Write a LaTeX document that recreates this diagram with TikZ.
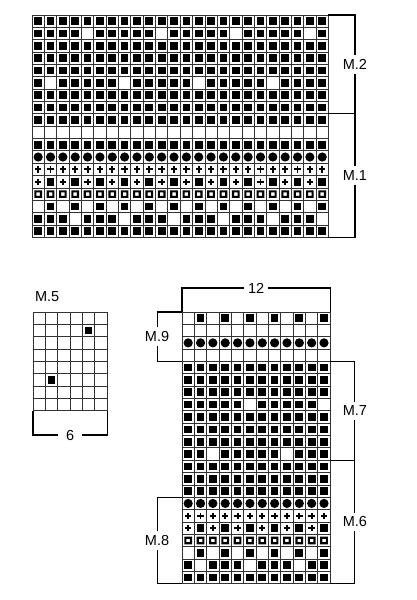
\documentclass[tikz,border=0pt]{standalone}
\usepackage{fontspec}
\setmainfont{Liberation Sans}
\usetikzlibrary{positioning}

\tikzset{
  knitb/.pic={\fill (-0.31,-0.31) rectangle (0.31,0.31);},
  knitw/.pic={},
  knitd/.pic={\fill (0,0) circle (4.6pt);},
  knitp/.pic={\draw[line width=1.9pt] (-0.26,0) -- (0.26,0) (0,-0.26) -- (0,0.26);},
  knith/.pic={\fill[even odd rule] (-0.31,-0.31) rectangle (0.31,0.31) (-0.14,-0.14) rectangle (0.14,0.14);},
}

% one symbol, one row (pattern repeated over the width), the grid lines
\newcommand\knitsym[3]{\pic at ({#2},{#3}) {knit#1};}
\newcommand\knitrow[3]{%
  \foreach \s [count=\k] in {#3} {\xdef\knitper{\k}}%
  \pgfmathtruncatemacro\knitreps{#2/\knitper-1}%
  \foreach \rep in {0,...,\knitreps} {%
    \foreach \s [count=\k from 0] in {#3} {%
      \expandafter\knitsym\expandafter{\s}{\rep*\knitper+\k+0.5}{#1+0.5}%
    }%
  }%
}
\newcommand\knitgrid[2]{%
  \foreach \i in {0,...,#1} {\draw[knitline] (\i,0) -- (\i,#2);}%
  \foreach \j in {0,...,#2} {\draw[knitline] (0,\j) -- (#1,\j);}%
}

\begin{document}
\begin{tikzpicture}[x=12.35pt,y=-12.35pt,
    font=\fontsize{14.5pt}{17pt}\selectfont,
    knitline/.style={black!80,line width=0.75pt},
    bracket/.style={line width=1.1pt},
    lbl/.style={inner xsep=1pt,inner ysep=4pt}]
  \useasboundingbox (0pt,0pt) rectangle (416pt,-600pt);

  % M.2 and M.1
  \begin{scope}[shift={(32pt,-15pt)}]
    \foreach \r in {0,2,3,4,6,7,8,10,17} {\knitrow{\r}{24}{b}}
    \knitrow{1}{24}{b,b,b,b,w,b}
    \knitrow{5}{24}{b,w,b,b,b,b}
    \knitrow{11}{24}{d}
    \knitrow{12}{24}{p}
    \knitrow{13}{24}{p,b}
    \knitrow{14}{24}{h}
    \knitrow{15}{24}{w,b}
    \knitrow{16}{24}{b,b,b,w}
    \knitgrid{24}{18}
    \coordinate (top0) at (24,0);
    \coordinate (top8) at (24,8);
    \coordinate (top18) at (24,18);
    \node[lbl] (m2) at (26.15,4) {M.2};
    \node[lbl] (m1) at (26.15,13) {M.1};
    \draw[bracket] (m2.north) |- (top0);
    \draw[bracket] (m2.south) |- (top8);
    \draw[bracket] (m1.north) |- (top8);
    \draw[bracket] (m1.south) |- (top18);
  \end{scope}

  % M.5
  \begin{scope}[shift={(33pt,-312pt)}]
    \knitrow{1}{6}{w,w,w,w,b,w}
    \knitrow{5}{6}{w,b,w,w,w,w}
    \knitgrid{6}{8}
    \coordinate (five-nw) at (0.15,-0.89);
    \coordinate (five-sw) at (0,8);
    \coordinate (five-se) at (6,8);
    \node[anchor=base west,inner sep=0pt] (m5) at (five-nw) {M.5};
    \node[lbl,inner xsep=8pt] (w6) at (3,9.96) {6};
    \draw[bracket] (w6.west) -| (five-sw);
    \draw[bracket] (w6.east) -| (five-se);
  \end{scope}

  % M.9, M.7, M.6, M.8
  \begin{scope}[shift={(182pt,-312pt)}]
    \knitrow{0}{12}{w,b}
    \knitrow{2}{12}{d}
    \foreach \r in {4,5,6,8,9,10,12,13,14,21} {\knitrow{\r}{12}{b}}
    \knitrow{7}{12}{b,b,b,b,b,w}
    \knitrow{11}{12}{b,b,w,b,b,b}
    \knitrow{15}{12}{d}
    \knitrow{16}{12}{p}
    \knitrow{17}{12}{p,b}
    \knitrow{18}{12}{h}
    \knitrow{19}{12}{w,b}
    \knitrow{20}{12}{b,w,b,b}
    \knitgrid{12}{22}
    \coordinate (bot-nw) at (0,0);
    \coordinate (bot-ne) at (12,0);
    \coordinate (bot4) at (0,4);
    \coordinate (bot15) at (0,15);
    \coordinate (bot22) at (0,22);
    \coordinate (bot4e) at (12,4);
    \coordinate (bot12e) at (12,12);
    \coordinate (bot22e) at (12,22);
    \node[lbl,inner xsep=4pt] (w12) at (6,-1.94) {12};
    \draw[bracket] (w12.west) -| (bot-nw);
    \draw[bracket] (w12.east) -| (bot-ne);
    \node[lbl] (m9) at (-2.02,2) {M.9};
    \draw[bracket] (m9.north) |- (bot-nw);
    \draw[bracket] (m9.south) |- (bot4);
    \node[lbl] (m8) at (-2.02,18.5) {M.8};
    \draw[bracket] (m8.north) |- (bot15);
    \draw[bracket] (m8.south) |- (bot22);
    \node[lbl] (m7) at (14,8) {M.7};
    \draw[bracket] (m7.north) |- (bot4e);
    \draw[bracket] (m7.south) |- (bot12e);
    \node[lbl] (m6) at (14,17) {M.6};
    \draw[bracket] (m6.north) |- (bot12e);
    \draw[bracket] (m6.south) |- (bot22e);
  \end{scope}
\end{tikzpicture}
\end{document}
